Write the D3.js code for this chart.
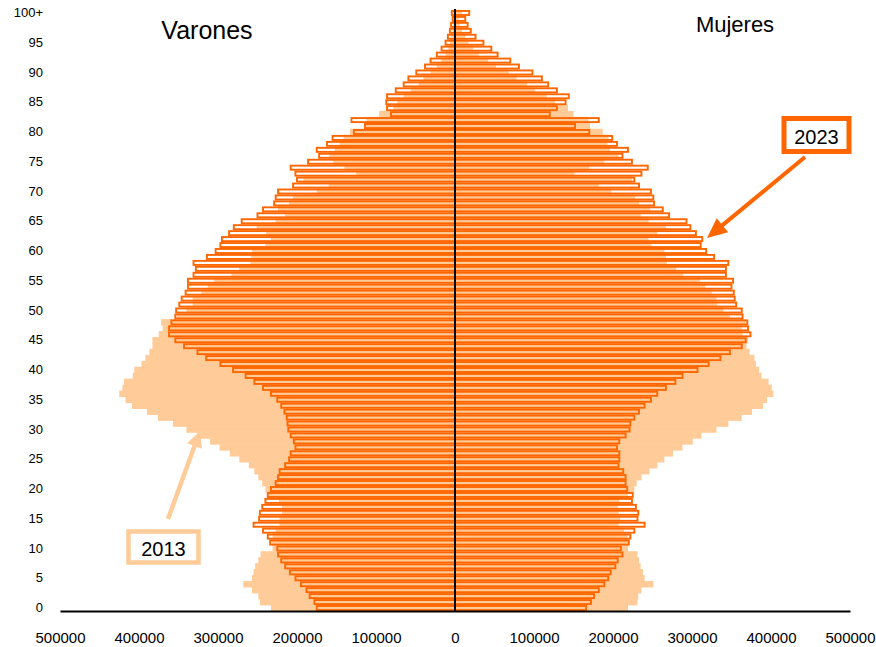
<!DOCTYPE html>
<html>
<head>
<meta charset="utf-8">
<script src="https://cdn.jsdelivr.net/npm/d3@7"></script>
<style>
  body { margin: 0; background: #fff; }
  svg { display: block; font-family: Arial, "Liberation Sans", sans-serif; }
</style>
</head>
<body>
<svg></svg>
<script>
// edades 0 .. 100 (la ultima es "100+")
const ages = d3.range(0, 101);

// poblacion por edad, en miles de personas
const varones2013 = [233,247,249,257,268,257,255,253,249,246, 231,232,231,227,222,222,219,219,223,236,
  240,244,249,254,261,273,285,298,310,325, 340,357,376,390,409,417,425,421,419,408,
  406,397,392,387,383,383,375,370,372,352, 340,332,332,321,313,305,283,273,259,258,
  257,240,233,239,251,227,215,224,210,205, 175,160,192,125,140,154,159,152,146,141,
  133,113,112,96,78,73,65,56,46,40, 31,23,17,12,8.4,6.3,4.5,3,2,1.5, 2];

const mujeres2013 = [219,231,232,236,251,240,238,235,233,231, 219,220,218,214,207,209,207,206,208,219,
  227,230,236,246,256,265,276,288,301,312, 331,346,363,376,390,395,403,401,397,388,
  385,381,379,373,369,371,364,363,368,348, 340,332,331,325,317,310,289,280,268,267,
  265,249,245,256,267,245,235,247,233,228, 198,182,224,151,170,189,207,196,193,194,
  187,171,169,150,143,127,116,101,91,78, 68,52,42,30,23,17,13,9,6,4.5, 9];

const varones2023 = [175,178,184,188,195,202,209,215,220,224, 225,234,237,243,255,248,247,244,240,237,
  233,227,224,222,215,210,208,202,204,208, 211,212,213,216,220,225,233,243,254,265,
  281,297,315,326,343,354,362,362,359,354, 353,349,346,341,338,338,331,328,331,314,
  303,297,295,286,280,270,250,243,229,227, 224,205,200,202,208,186,172,175,162,155,
  128,114,131,81,86,87,86,75,65,59, 49,38,31,23,17,12,9,6.5,5,3, 4];

const mujeres2023 = [166,172,176,182,189,194,197,203,206,212, 210,220,222,227,240,231,232,229,224,225,
  218,216,216,213,207,208,208,205,208,216, 221,222,227,233,240,248,256,267,279,288,
  307,321,336,348,363,368,374,371,370,364, 363,356,354,353,350,352,343,343,346,328,
  318,311,313,305,298,293,271,263,252,251, 248,233,227,236,244,224,212,219,205,199,
  170,152,182,120,129,140,144,129,118,110, 98,81,70,54,46,36,26,20,16,13, 18];

const xTicks = [-500000,-400000,-300000,-200000,-100000,0,100000,200000,300000,400000,500000];
const ageTicks = d3.range(0, 101, 5);

const width = 876, height = 647;
const light = "#FFCC99", orange = "#FF6600";
const sw = 1.9;

const svg = d3.select("svg").attr("width", width).attr("height", height);

const x = d3.scaleLinear().domain([-500000, 500000]).range([60, 850]);
const y = d3.scaleBand().domain(ages).range([611, 10]).padding(0);
const bw = y.bandwidth();

// barras 2013 rellenas (izquierda varones, derecha mujeres)
function filledBars(data, side) {
  svg.append("g").selectAll("rect").data(data).join("rect")
    .attr("x", d => side < 0 ? x(-d * 1000) : x(0))
    .attr("y", (d, i) => y(ages[i]) - 0.3)
    .attr("width", d => x(d * 1000) - x(0))
    .attr("height", bw + 0.6)
    .attr("fill", light);
}

// barras 2023 solo contorno
function outlineBars(data, side) {
  svg.append("g").selectAll("rect").data(data).join("rect")
    .attr("x", d => side < 0 ? x(-d * 1000) : x(0))
    .attr("y", (d, i) => y(ages[i]) + sw / 2)
    .attr("width", d => x(d * 1000) - x(0))
    .attr("height", bw - sw)
    .attr("fill", "none")
    .attr("stroke", orange)
    .attr("stroke-width", sw);
}

filledBars(varones2013, -1);
filledBars(mujeres2013, 1);
outlineBars(varones2023, -1);
outlineBars(mujeres2023, 1);

// eje central
svg.append("line")
  .attr("x1", x(0)).attr("x2", x(0))
  .attr("y1", 9).attr("y2", 611)
  .attr("stroke", "#000").attr("stroke-width", 2);

// eje x
const gx = svg.append("g")
  .attr("transform", "translate(0,611)")
  .call(d3.axisBottom(x).tickValues(xTicks).tickSize(0).tickSizeOuter(0)
    .tickPadding(21).tickFormat(d => Math.abs(d)));
gx.attr("font-size", 15).attr("font-family", null);
gx.select(".domain").attr("stroke", "#000").attr("stroke-width", 2);
gx.selectAll("text").attr("fill", "#000");

// eje de edades
const gy = svg.append("g")
  .attr("transform", "translate(46,0)")
  .call(d3.axisLeft(y).tickValues(ageTicks).tickSize(0).tickPadding(3)
    .tickFormat(d => d === 100 ? "100+" : d));
gy.attr("font-size", 13).attr("font-family", null);
gy.select(".domain").remove();
gy.selectAll("text").attr("fill", "#000");

// titulos
svg.append("text").attr("x", 207).attr("y", 39).attr("text-anchor", "middle")
  .attr("font-size", 25).text("Varones");
svg.append("text").attr("x", 735).attr("y", 32).attr("text-anchor", "middle")
  .attr("font-size", 22).text("Mujeres");

// flechas
function arrow(x1, y1, x2, y2, color, w, headLen, headHalf) {
  const dx = x2 - x1, dy = y2 - y1, L = Math.hypot(dx, dy);
  const ux = dx / L, uy = dy / L;
  const bx = x2 - ux * headLen, by = y2 - uy * headLen;
  svg.append("line")
    .attr("x1", x1).attr("y1", y1).attr("x2", bx + ux).attr("y2", by + uy)
    .attr("stroke", color).attr("stroke-width", w);
  svg.append("path")
    .attr("d", `M${x2},${y2}L${bx - uy * headHalf},${by + ux * headHalf}L${bx + uy * headHalf},${by - ux * headHalf}Z`)
    .attr("fill", color);
}

// leyenda 2023
svg.append("rect").attr("x", 784).attr("y", 118.5).attr("width", 65).attr("height", 33)
  .attr("fill", "#fff").attr("stroke", orange).attr("stroke-width", 5);
svg.append("text").attr("x", 816.5).attr("y", 143.5).attr("text-anchor", "middle")
  .attr("font-size", 20).text("2023");
arrow(805, 157, 707, 238, orange, 4, 20, 9);

// leyenda 2013
svg.append("rect").attr("x", 128.5).attr("y", 531.5).attr("width", 70).attr("height", 31)
  .attr("fill", "#fff").attr("stroke", light).attr("stroke-width", 4.5);
svg.append("text").attr("x", 163.5).attr("y", 556).attr("text-anchor", "middle")
  .attr("font-size", 20).text("2013");
arrow(168, 519, 200, 431, light, 4.5, 16, 8);
</script>
</body>
</html>
